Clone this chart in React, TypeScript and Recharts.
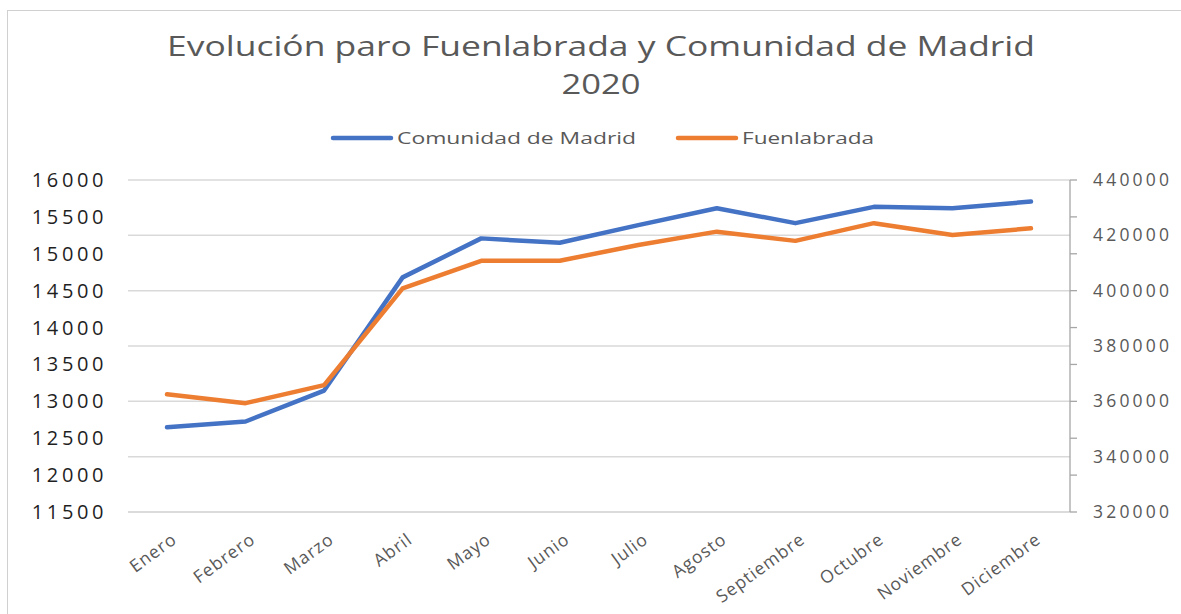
import { LineChart, Line, XAxis, YAxis, CartesianGrid, Legend } from "recharts";

const FONT = "'Open Sans', 'Noto Sans', sans-serif";

const months = [
  "Enero", "Febrero", "Marzo", "Abril", "Mayo", "Junio",
  "Julio", "Agosto", "Septiembre", "Octubre", "Noviembre", "Diciembre",
];
const comunidadMadrid = [350600, 352700, 363900, 404800, 418900, 417300, 423700, 429800, 424400, 430300, 429800, 432200];
const fuenlabrada = [13095, 12975, 13220, 14530, 14905, 14905, 15120, 15300, 15175, 15415, 15255, 15345];

const leftTicks = [11500, 12000, 12500, 13000, 13500, 14000, 14500, 15000, 15500, 16000];
const rightTicks = [320000, 340000, 360000, 380000, 400000, 420000, 440000];

const seriesNames = ["Comunidad de Madrid", "Fuenlabrada"];
const seriesColors = ["#4472C4", "#ED7D31"];
const titleLines = ["Evolución paro Fuenlabrada y Comunidad de Madrid", "2020"];

const data = months.map((m, i) => ({
  month: m,
  madrid: comunidadMadrid[i],
  fuenlabrada: fuenlabrada[i],
}));

// Excel puts the secondary axis tick marks level with the primary axis ticks
const rightMarks = leftTicks.map(v => 320000 + ((v - 11500) / 4500) * 120000);
const rightAll = Array.from(new Set([...rightTicks, ...rightMarks.map(v => Math.round(v))])).sort((a, b) => a - b);

const LeftTick = ({ x, y, payload }: any) => (
  <text x={x - 21} y={y} dy={7} textAnchor="end" fontFamily={FONT} fontSize={20} letterSpacing={3.6} fill="#1f1f1f">
    {payload.value}
  </text>
);

const RightTick = ({ x, y, payload }: any) => {
  const v = payload.value;
  const mark = rightMarks.some(m => Math.abs(m - v) < 1);
  const label = rightTicks.includes(v);
  return (
    <g>
      {mark && <line x1={x} x2={x + 7} y1={y} y2={y} stroke="#a6a6a6" strokeWidth={1.3} />}
      {label && (
        <text x={x + 23} y={y} dy={6} fontFamily={FONT} fontSize={17.5} letterSpacing={3.2} fill="#595959">
          {v}
        </text>
      )}
    </g>
  );
};

const MonthTick = ({ x, y, payload }: any) => {
  const tx = x + 11;
  const ty = y + 30;
  return (
    <text x={tx} y={ty} transform={`rotate(-36, ${tx}, ${ty})`} textAnchor="end" fontFamily={FONT} fontSize={17.5} letterSpacing={1} fill="#595959">
      {payload.value}
    </text>
  );
};

const legendX = [333, 678];

const LegendContent = () => (
  <svg width={1181} height={36}>
    {seriesNames.map((name, i) => (
      <g key={name}>
        <line x1={legendX[i]} x2={legendX[i] + 58} y1={18} y2={18} stroke={seriesColors[i]} strokeWidth={4.5} strokeLinecap="round" />
        <text x={legendX[i] + 64} y={24} fontFamily={FONT} fontSize={17} fill="#595959" textLength={i === 0 ? 239 : 132} lengthAdjust="spacingAndGlyphs">
          {name}
        </text>
      </g>
    ))}
  </svg>
);

export default function App() {
  return (
    <div style={{ position: "absolute", top: 0, left: 0, width: 1181, height: 614, background: "#fff", overflow: "hidden" }}>
      <div style={{ position: "absolute", top: 10, left: 7, right: 0, bottom: 0, borderTop: "1.5px solid #d0d0d0", borderLeft: "1.5px solid #d0d0d0" }} />
      <svg width={1181} height={110} style={{ position: "absolute", top: 0, left: 0, pointerEvents: "none" }}>
        <text x={601} y={56} textAnchor="middle" fontFamily={FONT} fontSize={28} fill="#595959" textLength={868} lengthAdjust="spacingAndGlyphs">
          {titleLines[0]}
        </text>
        <text x={601} y={94} textAnchor="middle" fontFamily={FONT} fontSize={28} fill="#595959" textLength={79} lengthAdjust="spacingAndGlyphs">
          {titleLines[1]}
        </text>
      </svg>
      <div style={{ position: "absolute", top: 0, left: 0 }}>
        <LineChart width={1181} height={614} data={data} margin={{ top: 180, right: 0, bottom: 0, left: 0 }}>
          <CartesianGrid yAxisId="right" horizontalValues={rightTicks} vertical={false} stroke="#d9d9d9" strokeWidth={1.5} />
          <XAxis dataKey="month" interval={0} height={102} padding={{ left: 39, right: 39 }} tickSize={0} tickMargin={0} axisLine={{ stroke: "#d9d9d9", strokeWidth: 1.5 }} tickLine={false} tick={<MonthTick />} />
          <YAxis yAxisId="left" orientation="left" width={128} domain={[11500, 16000]} ticks={leftTicks} interval={0} tickSize={0} tickMargin={0} axisLine={false} tickLine={false} tick={<LeftTick />} />
          <YAxis yAxisId="right" orientation="right" width={111} domain={[320000, 440000]} ticks={rightAll} interval={0} tickSize={0} tickMargin={0} axisLine={{ stroke: "#a6a6a6", strokeWidth: 1.3 }} tickLine={false} tick={<RightTick />} />
          <Legend verticalAlign="middle" layout="horizontal" wrapperStyle={{ top: 120, left: 0, width: 1181 }} content={<LegendContent />} />
          <Line yAxisId="right" type="linear" dataKey="madrid" name={seriesNames[0]} stroke={seriesColors[0]} strokeWidth={4.5} strokeLinecap="round" strokeLinejoin="round" dot={false} activeDot={false} isAnimationActive={false} />
          <Line yAxisId="left" type="linear" dataKey="fuenlabrada" name={seriesNames[1]} stroke={seriesColors[1]} strokeWidth={4.5} strokeLinecap="round" strokeLinejoin="round" dot={false} activeDot={false} isAnimationActive={false} />
        </LineChart>
      </div>
    </div>
  );
}
